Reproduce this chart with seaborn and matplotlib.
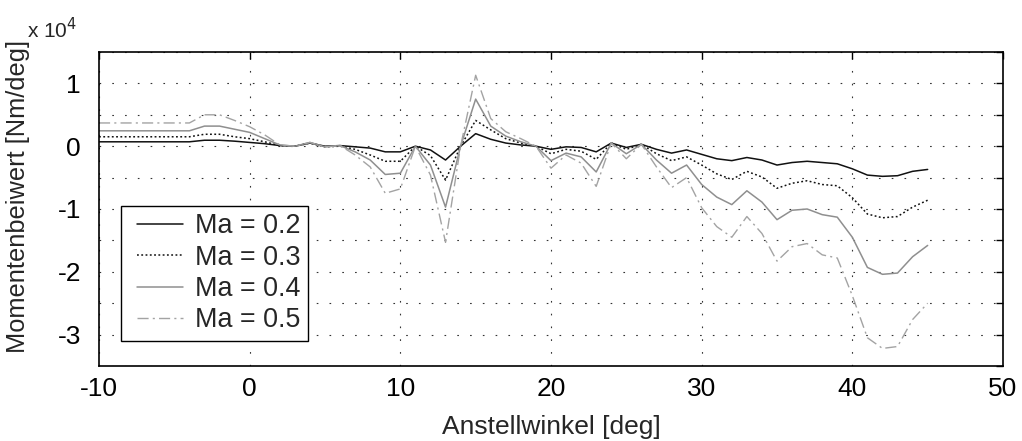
import numpy as np
import pandas as pd
import matplotlib
matplotlib.use("Agg")
import matplotlib.pyplot as plt
from matplotlib.ticker import FixedLocator, FuncFormatter
from matplotlib.lines import Line2D
from matplotlib.legend_handler import HandlerLine2D
import seaborn as sns

# ---- data (moment coefficient in units of 1e4 Nm/deg) ----
angles = list(range(-10, 46))

ma02 = [0.07, 0.07, 0.07, 0.07, 0.07, 0.07, 0.07, 0.095, 0.095, 0.08,
        0.06, 0.04, 0.01, 0.0, 0.05, 0.0, 0.01, -0.01, -0.03, -0.09,
        -0.09, 0.0, -0.06, -0.22, 0.0, 0.2, 0.11, 0.05, 0.02, 0.0,
        -0.05, -0.01, -0.02, -0.09, 0.05, -0.02, 0.03, -0.05, -0.11, -0.06,
        -0.13, -0.2, -0.23, -0.18, -0.22, -0.3, -0.26, -0.24, -0.26, -0.28,
        -0.36, -0.46, -0.48, -0.47, -0.4, -0.37]

ma03 = [0.15, 0.15, 0.15, 0.15, 0.15, 0.15, 0.15, 0.19, 0.19, 0.15,
        0.12, 0.07, 0.01, 0.0, 0.05, -0.01, 0.0, -0.05, -0.14, -0.24,
        -0.24, 0.0, -0.15, -0.54, 0.0, 0.41, 0.26, 0.12, 0.05, 0.0,
        -0.12, -0.05, -0.08, -0.21, 0.05, -0.05, 0.03, -0.12, -0.23, -0.17,
        -0.3, -0.44, -0.53, -0.4, -0.49, -0.67, -0.59, -0.55, -0.61, -0.63,
        -0.82, -1.08, -1.14, -1.12, -0.97, -0.86]

ma04 = [0.245, 0.245, 0.245, 0.245, 0.245, 0.245, 0.245, 0.32, 0.32, 0.27,
        0.22, 0.12, 0.02, 0.0, 0.06, -0.01, 0.01, -0.09, -0.22, -0.45,
        -0.43, 0.0, -0.3, -0.97, 0.0, 0.75, 0.32, 0.16, 0.07, 0.0,
        -0.23, -0.11, -0.17, -0.41, 0.05, -0.12, 0.03, -0.22, -0.43, -0.3,
        -0.61, -0.81, -0.93, -0.71, -0.89, -1.17, -1.02, -1.0, -1.09, -1.13,
        -1.45, -1.93, -2.04, -2.02, -1.76, -1.58]

ma05 = [0.37, 0.37, 0.37, 0.37, 0.37, 0.37, 0.37, 0.5, 0.5, 0.41,
        0.31, 0.18, 0.02, 0.0, 0.06, -0.01, 0.01, -0.14, -0.33, -0.75,
        -0.68, 0.0, -0.46, -1.53, 0.0, 1.13, 0.44, 0.23, 0.12, 0.0,
        -0.35, -0.14, -0.27, -0.64, 0.05, -0.2, 0.03, -0.33, -0.66, -0.5,
        -0.98, -1.28, -1.45, -1.12, -1.39, -1.83, -1.6, -1.55, -1.73, -1.78,
        -2.38, -3.05, -3.22, -3.19, -2.76, -2.5]

labels = ["Ma = 0.2", "Ma = 0.3", "Ma = 0.4", "Ma = 0.5"]
x_ticks = [-10, 0, 10, 20, 30, 40, 50]
y_ticks = [-3.5, -3, -2.5, -2, -1.5, -1, -0.5, 0, 0.5, 1, 1.5]

# ---- styling ----
sns.set_style("white")
plt.rcParams["font.family"] = ["Liberation Sans", "DejaVu Sans"]
FS = 19

series = [ma02, ma03, ma04, ma05]
colors = ["#111111", "#111111", "#8f8f8f", "#a3a3a3"]
styles = ["-", (0, (1.2, 1.6)), "-", (0, (8, 3, 1.5, 3))]
widths = [1.1, 1.1, 1.1, 1.0]

fig = plt.figure(figsize=(10.22, 4.41), dpi=100)
ax = fig.add_axes([99 / 1022, 1 - 366 / 441, 904 / 1022, 314 / 441])

for vals, lab, c, ls, lw in zip(series, labels, colors, styles, widths):
    df = pd.DataFrame({"angle": angles, "cm": vals})
    sns.lineplot(data=df, x="angle", y="cm", ax=ax, color=c, linestyle=ls,
                 linewidth=lw, label=lab)

ax.set_xlim(-10, 50)
ax.set_ylim(-3.5, 1.5)
ax.xaxis.set_major_locator(FixedLocator(x_ticks))
ax.yaxis.set_major_locator(FixedLocator(y_ticks))
ax.yaxis.set_major_formatter(FuncFormatter(
    lambda v, p: ("%d" % round(v)) if abs(v - round(v)) < 1e-9 and v > -3.4 and v < 1.4 else ""))
ax.xaxis.set_major_formatter(FuncFormatter(lambda v, p: "%d" % v))

ax.grid(True, which="major", color="#333333", linestyle=(0, (1.5, 10)), linewidth=0.8)
ax.tick_params(direction="in", length=5, width=1, top=True, right=True,
               labelsize=FS, colors="black")
ax.tick_params(axis="x", pad=8)
ax.tick_params(axis="y", pad=13)
for s in ax.spines.values():
    s.set_visible(True)
    s.set_color("black")
    s.set_linewidth(1.2)

ax.set_xlabel("Anstellwinkel [deg]", fontsize=FS, labelpad=10)
ax.set_ylabel("Momentenbeiwert [Nm/deg]", fontsize=18.3)
ax.yaxis.set_label_coords(-0.076, 0.54)

fig.text(27 / 1022, 1 - 38 / 441, r"x 10$^{4}$", fontsize=15, ha="left", va="baseline")

leg = ax.legend(loc="lower left", bbox_to_anchor=(0.0243, 0.0796), borderaxespad=0,
                fontsize=19.4, frameon=True, fancybox=False, edgecolor="black",
                handlelength=2.35, handletextpad=0.12, labelspacing=0.2,
                borderpad=0.28,
                handler_map={Line2D: HandlerLine2D(marker_pad=0.33, numpoints=2)})
leg.get_frame().set_linewidth(1.0)
leg.get_frame().set_alpha(1)

fig.savefig("out.png", dpi=100)
